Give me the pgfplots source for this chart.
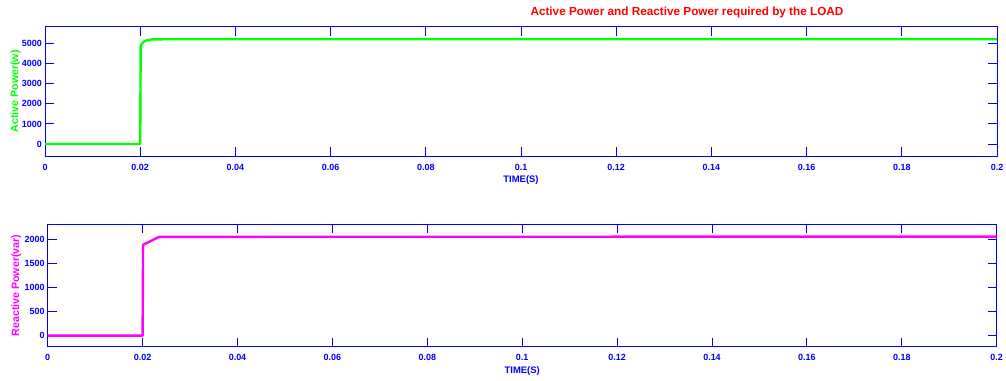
\documentclass[border=0pt]{standalone}
\usepackage{pgfplots}
\pgfplotsset{compat=1.18}
\usepackage{fontspec}
\setmainfont{Liberation Sans}
\definecolor{mblue}{RGB}{0,0,255}
\definecolor{mgreen}{RGB}{0,255,0}
\definecolor{mmag}{RGB}{255,0,255}
\definecolor{mred}{RGB}{255,0,0}
\pgfplotsset{
  matstyle/.style={
    scale only axis,
    xmin=0, xmax=0.2,
    xtick={0,0.02,0.04,0.06,0.08,0.1,0.12,0.14,0.16,0.18,0.2},
    xticklabels={0,0.02,0.04,0.06,0.08,0.1,0.12,0.14,0.16,0.18,0.2},
    axis line style={mblue, line width=0.9bp},
    every tick/.style={mblue, line width=0.9bp},
    major tick length=9bp,
    tick align=inside,
    tick pos=both,
    xticklabel pos=lower,
    yticklabel pos=left,
    ticklabel style={font=\bfseries\fontsize{9}{10}\selectfont, text=mblue},
    xticklabel style={yshift=-4.5bp},
    yticklabel style={inner xsep=3bp},
    xlabel={TIME(S)},
    xlabel style={at={(axis description cs:0.5,0)}, anchor=center, yshift=-24bp, font=\bfseries\fontsize{9.5}{10}\selectfont, text=mblue},
    ylabel style={anchor=center, rotate=0, font=\bfseries\fontsize{10.7}{12}\selectfont},
    clip=true,
  }
}
\begin{document}
\begin{tikzpicture}
\path[use as bounding box] (0,0) rectangle (1006bp,-381bp);
\node[font=\bfseries\fontsize{11.8}{13}\selectfont, text=mred] at (687bp,-12bp) {Active Power and Reactive Power required by the LOAD};
\begin{axis}[matstyle,
  at={(45bp,-156bp)}, anchor=south west,
  width=952bp, height=129.3bp,
  ymin=-600, ymax=5850,
  ytick={0,1000,2000,3000,4000,5000},
  yticklabels={0,1000,2000,3000,4000,5000},
  ylabel={Active Power(w)},
  ylabel style={text=mgreen, at={(axis description cs:-0.031,0.5)}},
]
\addplot[mgreen, line width=2.4bp, line join=round] coordinates {
(0,0) (0.02,0) (0.0201,4880) (0.0204,5020) (0.0208,5110) (0.0213,5170) (0.022,5205) (0.023,5218) (0.025,5222) (0.2,5222)
};
\end{axis}
\begin{axis}[matstyle,
  at={(47.7bp,-346.7bp)}, anchor=south west,
  width=949bp, height=122.4bp,
  ymin=-230, ymax=2310,
  ytick={0,500,1000,1500,2000},
  yticklabels={0,500,1000,1500,2000},
  ylabel={Reactive Power(var)},
  ylabel style={text=mmag, at={(axis description cs:-0.033,0.5)}},
]
\addplot[mmag, line width=2.4bp, line join=round] coordinates {
(0,0) (0.02,0) (0.0201,1885) (0.0235,2050) (0.2,2055)
};
\end{axis}
\end{tikzpicture}
\end{document}
